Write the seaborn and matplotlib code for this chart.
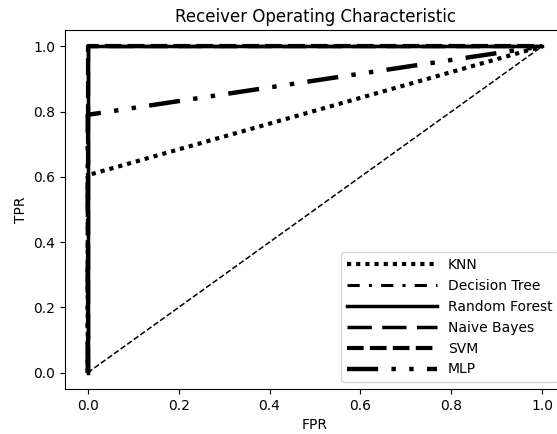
import matplotlib
matplotlib.use("Agg")
import matplotlib.pyplot as plt
import seaborn as sns

# ROC points
models = ["KNN", "Decision Tree", "Random Forest", "Naive Bayes", "SVM", "MLP"]
fpr = {
    "KNN": [0.0, 0.0, 1.0],
    "Decision Tree": [0.0, 0.0, 1.0],
    "Random Forest": [0.0, 0.0, 1.0],
    "Naive Bayes": [0.0, 0.0, 1.0],
    "SVM": [0.0, 0.0, 1.0],
    "MLP": [0.0, 0.0, 1.0],
}
tpr = {
    "KNN": [0.0, 0.605, 1.0],
    "Decision Tree": [0.0, 1.0, 1.0],
    "Random Forest": [0.0, 1.0, 1.0],
    "Naive Bayes": [0.0, 1.0, 1.0],
    "SVM": [0.0, 1.0, 1.0],
    "MLP": [0.0, 0.79, 1.0],
}
chance_x = [0.0, 1.0]
chance_y = [0.0, 1.0]

styles = {
    "KNN": dict(linestyle=(0, (1, 1.2)), linewidth=3),
    "Decision Tree": dict(linestyle=(0, (4, 3, 1, 3)), linewidth=2.2),
    "Random Forest": dict(linestyle="-", linewidth=2.5),
    "Naive Bayes": dict(linestyle=(0, (7, 3)), linewidth=2.5),
    "SVM": dict(linestyle=(0, (4, 1.5)), linewidth=3),
    "MLP": dict(linestyle=(0, (7, 3, 1, 3, 1, 3)), linewidth=3.2),
}

fig = plt.figure(figsize=(5.57, 4.34), dpi=100)
ax = fig.add_axes([0.1167, 0.1037, 0.8977, 0.8273])

for m in models:
    sns.lineplot(x=fpr[m], y=tpr[m], ax=ax, estimator=None, sort=False,
                 color="black", label=m, **styles[m])

sns.lineplot(x=chance_x, y=chance_y, ax=ax, estimator=None, sort=False,
             color="black", linestyle="--", linewidth=1.1)

ax.set_xlim(-0.05, 1.05)
ax.set_ylim(-0.05, 1.05)
ax.set_xticks([0.0, 0.2, 0.4, 0.6, 0.8, 1.0])
ax.set_yticks([0.0, 0.2, 0.4, 0.6, 0.8, 1.0])
ax.set_title("Receiver Operating Characteristic")
ax.set_xlabel("FPR")
ax.set_ylabel("TPR")
ax.legend(loc="lower right", handlelength=6.5, frameon=True)

fig.savefig("out.png", dpi=100)
